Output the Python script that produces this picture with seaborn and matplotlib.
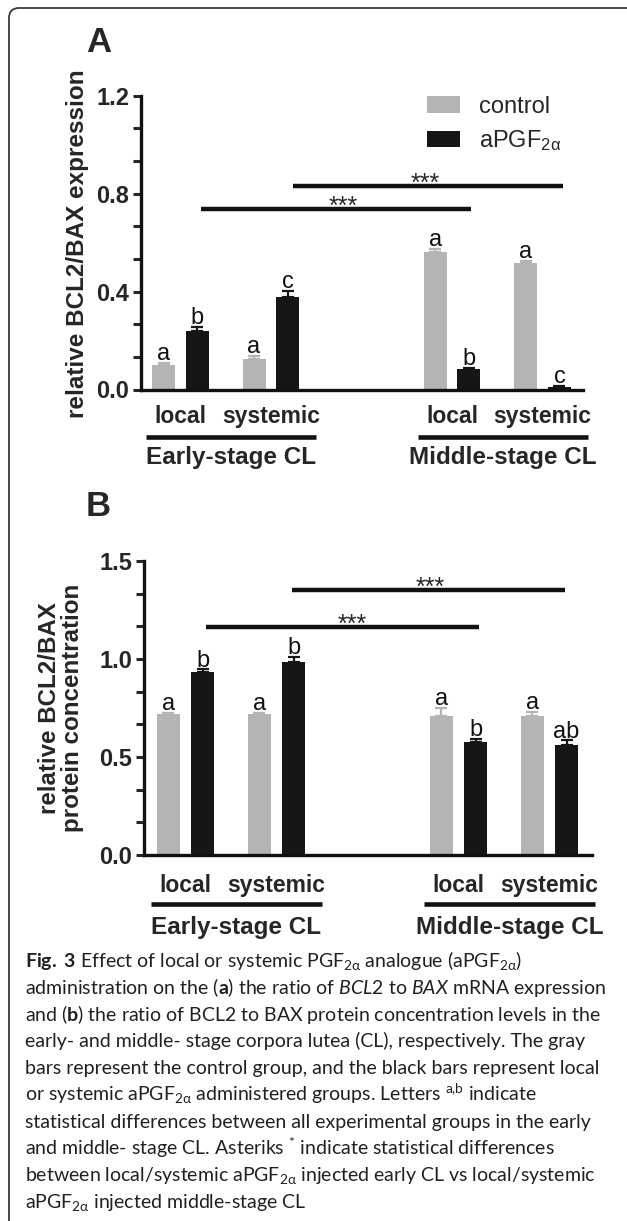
import numpy as np
import pandas as pd
import matplotlib
matplotlib.use("Agg")
import matplotlib.pyplot as plt
import seaborn as sns
from matplotlib.ticker import MultipleLocator
from matplotlib.patches import FancyBboxPatch
from matplotlib.transforms import IdentityTransform, blended_transform_factory

# ---------------- data ----------------
stages = ["Early-stage CL", "Middle-stage CL"]
routes = ["local", "systemic"]
group_names = ["control", "aPGF$_{2\\alpha}$"]

# Panel A: relative BCL2/BAX mRNA expression (mean, SEM)
mrna_control = [0.100, 0.125, 0.560, 0.515]
mrna_control_sem = [0.009, 0.012, 0.015, 0.009]
mrna_apgf = [0.239, 0.377, 0.082, 0.011]
mrna_apgf_sem = [0.018, 0.027, 0.007, 0.005]
mrna_letters_control = ["a", "a", "a", "a"]
mrna_letters_apgf = ["b", "c", "b", "c"]

# Panel B: relative BCL2/BAX protein concentration (mean, SEM)
prot_control = [0.720, 0.720, 0.710, 0.710]
prot_control_sem = [0.005, 0.004, 0.041, 0.021]
prot_apgf = [0.932, 0.983, 0.578, 0.560]
prot_apgf_sem = [0.015, 0.029, 0.015, 0.025]
prot_letters_control = ["a", "a", "a", "a"]
prot_letters_apgf = ["b", "b", "b", "ab"]

sig_label = "***"

caption_lines = [
    r"$\mathbf{Fig.}$ $\mathbf{3}$ Effect of local or systemic PGF$_{2\alpha}$ analogue (aPGF$_{2\alpha}$)",
    r"administration on the ($\mathbf{a}$) the ratio of $\mathit{BCL2}$ to $\mathit{BAX}$ mRNA expression",
    r"and ($\mathbf{b}$) the ratio of BCL2 to BAX protein concentration levels in the",
    r"early- and middle- stage corpora lutea (CL), respectively. The gray",
    r"bars represent the control group, and the black bars represent local",
    r"or systemic aPGF$_{2\alpha}$ administered groups. Letters $^{a{,}b}$ indicate",
    r"statistical differences between all experimental groups in the early",
    r"and middle- stage CL. Asteriks $^{*}$ indicate statistical differences",
    r"between local/systemic aPGF$_{2\alpha}$ injected early CL vs local/systemic",
    r"aPGF$_{2\alpha}$ injected middle-stage CL",
]

# ---------------- style ----------------
sns.set_style("ticks")
plt.rcParams["font.family"] = ["Liberation Sans", "DejaVu Sans"]
plt.rcParams["mathtext.default"] = "regular"
plt.rcParams["mathtext.fontset"] = "custom"
plt.rcParams["mathtext.rm"] = "Lato"
plt.rcParams["mathtext.it"] = "Lato:italic"
plt.rcParams["mathtext.bf"] = "Lato:bold"

GRAY = "#b4b4b4"
BLACK = "#161616"
W, H = 627, 1221

fig = plt.figure(figsize=(W / 100, H / 100), dpi=100)
fig.patch.set_facecolor("white")


def px_axes(left, right, top, bottom):
    return fig.add_axes([left / W, 1 - bottom / H, (right - left) / W, (bottom - top) / H])


axA = px_axes(141, 583, 95.7, 389.5)
axB = px_axes(144, 592, 561, 855)

conds = [f"{s}|{r}" for s in stages for r in routes]
order = conds[:2] + ["gap"] + conds[2:]
cond_pos = [order.index(c) for c in conds]


def draw_panel(ax, ctrl, ctrl_sem, apgf, apgf_sem, let_c, let_a, ymax, major,
               xlim, sig_specs, tick_pad, under_y, stage_y, legend):
    df = pd.DataFrame({
        "condition": conds * 2,
        "group": [group_names[0]] * len(conds) + [group_names[1]] * len(conds),
        "value": list(ctrl) + list(apgf),
    })
    sns.barplot(data=df, x="condition", y="value", hue="group", order=order,
                hue_order=group_names, palette=[GRAY, BLACK], saturation=1,
                width=0.748, gap=0.32, errorbar=None, linewidth=0, ax=ax,
                legend=legend, zorder=2)
    bar_sets = [list(c) for c in ax.containers[:2]]
    for bars, sems, col, lets in zip(bar_sets, [ctrl_sem, apgf_sem], [GRAY, BLACK], [let_c, let_a]):
        bars = sorted(bars, key=lambda b: b.get_x())
        xs = np.array([b.get_x() + b.get_width() / 2 for b in bars])
        hs = np.array([b.get_height() for b in bars])
        sems = np.array(sems)
        ax.errorbar(xs, hs, yerr=[np.zeros_like(sems), sems], fmt="none",
                    ecolor=col, elinewidth=1.6, capsize=4.3, capthick=1.6, zorder=3)
        for x, h, s, t in zip(xs, hs, sems, lets):
            ax.annotate(t, (x, h + s), xytext=(0, 2.0), textcoords="offset points",
                        ha="center", va="baseline", fontsize=17, color="#111111")
    ax.set_xlim(*xlim)
    ax.set_ylim(0, ymax)
    ax.yaxis.set_major_locator(MultipleLocator(major))
    ax.yaxis.set_minor_locator(MultipleLocator(major / 3))
    ax.set_yticks(np.arange(0, ymax + 1e-9, major))
    ax.set_yticklabels([f"{v:.1f}" for v in np.arange(0, ymax + 1e-9, major)],
                       fontsize=17, fontweight="bold")
    ax.set_xticks(cond_pos)
    ax.set_xticklabels([c.split("|")[1] for c in conds], fontsize=16.5, fontweight="bold")
    ax.tick_params(axis="x", length=0, pad=tick_pad)
    ax.tick_params(axis="y", which="both", length=5.5, width=2.2, pad=3, direction="out")
    ax.set_xlabel("")
    ax.set_ylabel("")
    sns.despine(ax=ax)
    for sp in ["left", "bottom"]:
        ax.spines[sp].set_linewidth(2.4)
        ax.spines[sp].set_color("#111111")
    ax.grid(False)
    trans = blended_transform_factory(ax.transData, ax.transAxes)
    for i, stage in enumerate(stages):
        p0 = cond_pos[2 * i]
        p1 = cond_pos[2 * i + 1]
        ax.plot([p0 - 0.38, p1 + 0.5], [under_y, under_y], transform=trans,
                clip_on=False, color="#111111", lw=3.3, solid_capstyle="butt")
        ax.text((p0 - 0.38 + p1 + 0.5) / 2, stage_y, stage, transform=trans,
                ha="center", va="center", fontsize=17.5, fontweight="bold")
    for x0, x1, y, xs in sig_specs:
        ax.plot([x0, x1], [y, y], color="#111111", lw=3.2, solid_capstyle="butt",
                clip_on=False, zorder=4)
        ax.annotate(sig_label, (xs, y), xytext=(0, -3.5), textcoords="offset points",
                    ha="center", va="baseline", fontsize=18)


draw_panel(axA, mrna_control, mrna_control_sem, mrna_apgf, mrna_apgf_sem,
           mrna_letters_control, mrna_letters_apgf, 1.2, 0.4, (-0.436, 4.447),
           [(0.23, 3.21, 0.737, 1.80), (1.24, 4.23, 0.832, 2.70)],
           11, -0.1617, -0.232, True)
draw_panel(axB, prot_control, prot_control_sem, prot_apgf, prot_apgf_sem,
           prot_letters_control, prot_letters_apgf, 1.5, 0.5, (-0.456, 4.467),
           [(0.225, 3.225, 1.165, 1.83), (1.17, 4.17, 1.352, 2.69)],
           14, -0.1667, -0.245, False)

sns.move_legend(axA, "upper left", bbox_to_anchor=(0.647, 1.0), frameon=False,
                title=None, fontsize=17, handlelength=1.4, handleheight=0.7,
                handletextpad=0.8, labelspacing=0.45, borderpad=0, borderaxespad=0)

# y labels and panel letters
fig.text(78 / W, 1 - 244 / H, "relative BCL2/BAX expression", rotation=90,
         ha="center", va="center", fontsize=17.5, fontweight="bold")
fig.text(61 / W, 1 - 708 / H, "relative BCL2/BAX\nprotein concentration", rotation=90,
         ha="center", va="center", fontsize=17.4, fontweight="bold", linespacing=1.05,
         multialignment="center")
fig.text(86 / W, 1 - 43 / H, "A", ha="left", va="center", fontsize=25, fontweight="bold")
fig.text(86 / W, 1 - 506 / H, "B", ha="left", va="center", fontsize=25, fontweight="bold")

# caption
cap_family = ["Lato", "DejaVu Sans"]
renderer = fig.canvas.get_renderer()
probe = fig.text(0, 0, caption_lines[1], fontsize=13, family=cap_family)
wprobe = probe.get_window_extent(renderer).width
probe.remove()
cap_fs = 13 * 579 / wprobe
y0, dy = 967, 26.8
for i, line in enumerate(caption_lines):
    fig.text(25 / W, 1 - (y0 + i * dy) / H, line, fontsize=cap_fs, family=cap_family,
             ha="left", va="baseline", color="#231f20")

# rounded frame (top-left corner visible)
frame = FancyBboxPatch((9, -40), 680, H - 8 + 40, boxstyle="round,pad=0,rounding_size=10",
                       transform=IdentityTransform(), fill=False, edgecolor="#3a3a3a",
                       linewidth=1.3, clip_on=False)
fig.patches.append(frame)

fig.savefig("out.png", dpi=100)
